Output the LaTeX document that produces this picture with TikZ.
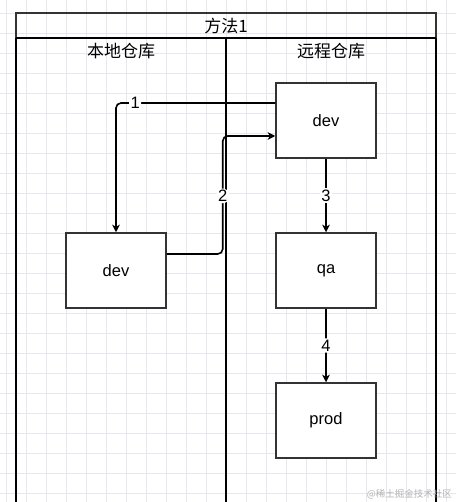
\documentclass[tikz,border=0pt]{standalone}
\usepackage{fontspec}
\setmainfont{Liberation Sans}
\newfontfamily\cjk{Noto Sans CJK SC}
\usetikzlibrary{arrows.meta}
\definecolor{gridc}{HTML}{E6E8EF}
\definecolor{boxc}{HTML}{333333}
\definecolor{wmc}{HTML}{B4B4B4}
\begin{document}
\begin{tikzpicture}[x=1pt,y=-1pt,
  box/.style={draw=boxc, line width=1.5pt, minimum width=100pt, minimum height=75pt,
    inner sep=0pt, fill=white, font=\fontsize{16.5}{18}\selectfont},
  conn/.style={line width=1.6pt, rounded corners=5pt,
    -{Stealth[length=7.5pt,width=7.5pt,inset=2pt]}},
  lbl/.style={fill=white, inner sep=1.5pt, font=\fontsize{16.5}{18}\selectfont},
  lanehead/.style={font=\cjk\fontsize{17}{19}\selectfont, inner sep=0pt},
  titlebox/.style={draw=boxc, line width=1.5pt, minimum width=420pt, minimum height=25.5pt,
    inner sep=0pt, font=\cjk\fontsize{17}{19}\selectfont},
  laneline/.style={line width=2pt, black},
  gridline/.style={gridc, line width=0.6pt},
]
\useasboundingbox (0,0) rectangle (456,502);
\fill[white] (0,0) rectangle (456,502);
% background grid
\foreach \x in {6.7,26.7,...,456} \draw[gridline] (\x,0) -- (\x,502);
\foreach \y in {13.3,33.3,...,502} \draw[gridline] (0,\y) -- (456,\y);

% swimlane
\node[titlebox] (title) at (226,25.75) {方法1};
\draw[laneline] (16,38.5) -- (436,38.5);
\draw[laneline] (16,38.5) -- (16,502);
\draw[laneline] (436,38.5) -- (436,502);
\draw[laneline] (226,38.5) -- (226,502);
\node[lanehead] (lane1) at (121,51.5) {本地仓库};
\node[lanehead] (lane2) at (331,51.5) {远程仓库};

% boxes
\node[box] (rdev) at (326,120.5) {dev};
\node[box] (ldev) at (116,270.5) {dev};
\node[box] (qa) at (326,270.5) {qa};
\node[box] (prod) at (326,420.5) {prod};

% connectors
\draw[conn] ([yshift=17.5pt]rdev.west) -| node[lbl,pos=0.44]{1} (ldev.north);
\draw[conn] ([yshift=16.5pt]ldev.east) -- ++(56,0) |- node[lbl,pos=0.246]{2} ([yshift=-15.5pt]rdev.west);
\draw[conn] (rdev.south) -- node[lbl]{3} (qa.north);
\draw[conn] (qa.south) -- node[lbl]{4} (prod.north);

% watermark
\node[font=\cjk\fontsize{9.5}{11}\selectfont, text=wmc, anchor=east, inner sep=0pt] (wm) at (452,494) {@稀土掘金技术社区};
\end{tikzpicture}
\end{document}
